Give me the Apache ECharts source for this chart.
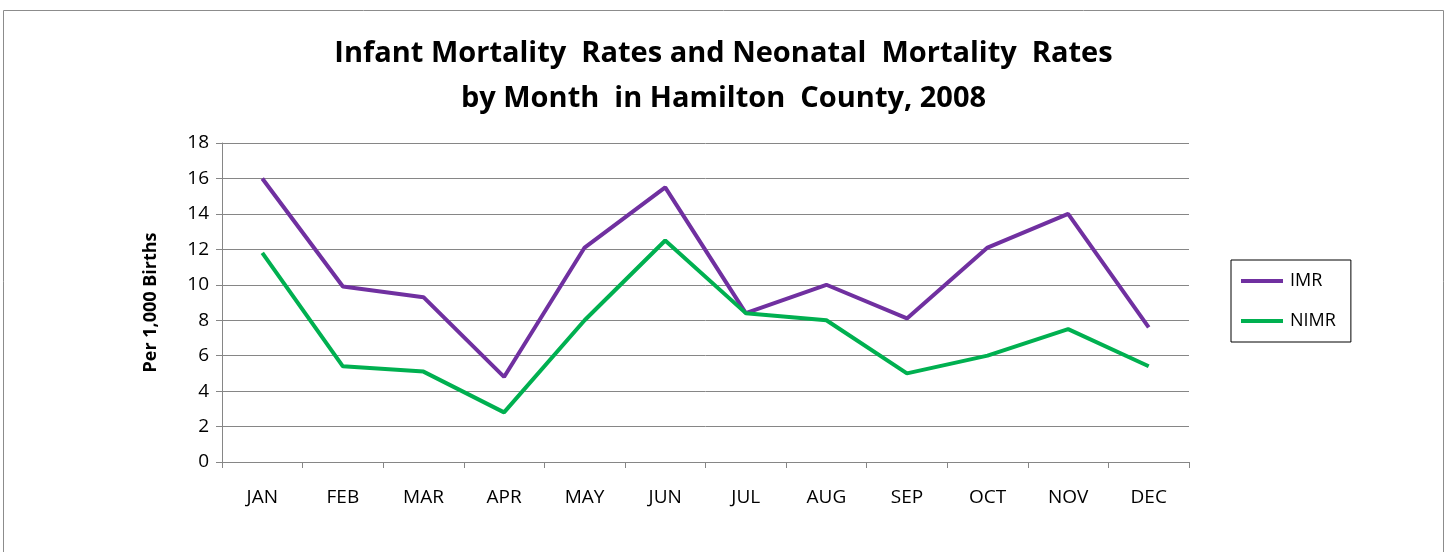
<!DOCTYPE html>
<html>
<head>
<meta charset="utf-8">
<script src="https://cdn.jsdelivr.net/npm/echarts@6/dist/echarts.min.js"></script>
<style>html,body{margin:0;padding:0;background:#fff;}#c{width:1447px;height:552px;}</style>
</head>
<body>
<div id="c"></div>
<script>
const months = ['JAN','FEB','MAR','APR','MAY','JUN','JUL','AUG','SEP','OCT','NOV','DEC'];
const imr  = [16.0, 9.9, 9.3, 4.8, 12.1, 15.5, 8.4, 10.0, 8.1, 12.1, 14.0, 7.6];
const nimr = [11.8, 5.4, 5.1, 2.8, 8.0, 12.5, 8.4, 8.0, 5.0, 6.0, 7.5, 5.4];
const titleLines = ['Infant Mortality  Rates and Neonatal  Mortality  Rates', 'by Month  in Hamilton  County, 2008'];
const yName = 'Per 1,000 Births';

const font = '"Open Sans", Lato, sans-serif';
const chart = echarts.init(document.getElementById('c'), null, {renderer: 'canvas'});
chart.setOption({
  backgroundColor: '#fff',
  animation: false,
  graphic: [{
    type: 'rect', shape: {x: 3.5, y: 10.5, width: 1440, height: 600},
    style: {fill: 'none', stroke: '#8c8c8c', lineWidth: 1}, silent: true
  }],
  title: {
    text: titleLines.join('\n'),
    left: 'center', top: 26,
    textStyle: {fontFamily: font, fontWeight: 'bold', fontSize: 29, color: '#000', lineHeight: 45}
  },
  legend: {
    orient: 'vertical', left: 1231, top: 260,
    padding: [12, 15, 12, 10],
    itemGap: 22,
    itemWidth: 42, itemHeight: 4,
    borderColor: '#000', borderWidth: 1,
    icon: 'rect',
    textStyle: {fontFamily: font, fontSize: 18, color: '#000', padding: [0,0,0,2]},
    data: ['IMR', 'NIMR']
  },
  grid: {left: 222, right: 258, top: 143, bottom: 90, containLabel: false},
  xAxis: {
    type: 'category', data: months, boundaryGap: true,
    axisLine: {lineStyle: {color: '#868686', width: 1}},
    axisTick: {show: true, length: 6, lineStyle: {color: '#868686'}},
    axisLabel: {fontFamily: font, fontSize: 19, color: '#000', margin: 26}
  },
  yAxis: {
    type: 'value', min: 0, max: 18, interval: 2,
    name: yName, nameLocation: 'middle', nameGap: 62,
    nameTextStyle: {fontFamily: font, fontWeight: 'bold', fontSize: 18, color: '#000'},
    axisLine: {show: true, lineStyle: {color: '#868686', width: 1}},
    axisTick: {show: true, length: 6, lineStyle: {color: '#868686'}},
    axisLabel: {fontFamily: font, fontSize: 19, color: '#000', margin: 13},
    splitLine: {lineStyle: {color: '#868686', width: 1}}
  },
  series: [
    {name: 'IMR', type: 'line', data: imr, symbol: 'none', color: '#7030A0',
     lineStyle: {width: 4, color: '#7030A0'}},
    {name: 'NIMR', type: 'line', data: nimr, symbol: 'none', color: '#00B050',
     lineStyle: {width: 4, color: '#00B050'}}
  ]
});
</script>
</body>
</html>
